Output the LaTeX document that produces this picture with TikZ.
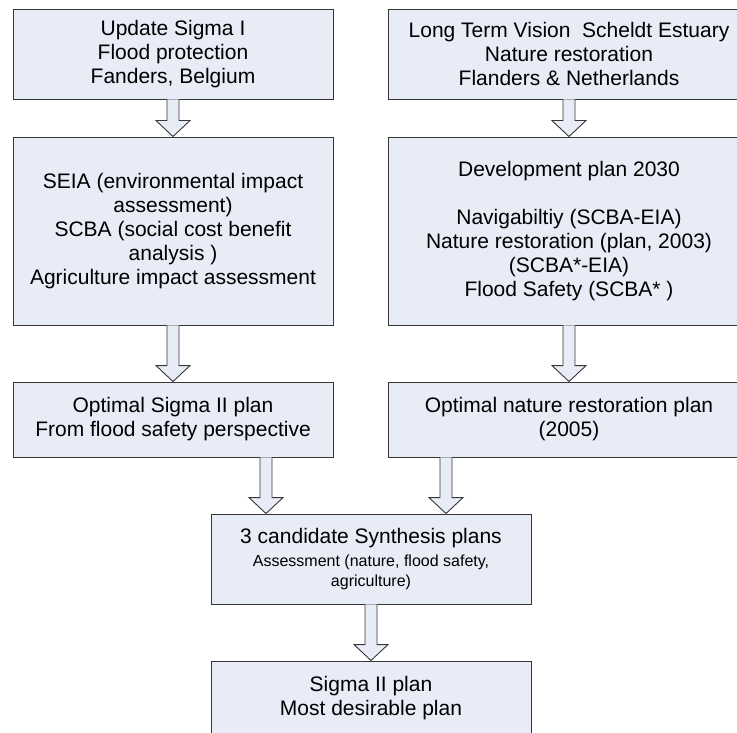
\documentclass[tikz,border=0pt]{standalone}
\usepackage{fontspec}
\setmainfont{Liberation Sans}
\usetikzlibrary{calc}
\definecolor{boxfill}{RGB}{231,236,247}
\definecolor{boxline}{RGB}{55,55,55}
\newcommand\smalltxt{\fontsize{16}{20}\selectfont}
\tikzset{
  box/.style={draw=boxline, fill=boxfill, line width=0.9pt, align=center, inner sep=0pt,
    font=\fontsize{21}{24}\selectfont},
  blkfill/.style={fill=boxfill},
  blkline/.style={draw=boxline, line width=0.9pt, line join=miter},
}
\newcommand\blkarrow[2]{%
  \fill[blkfill] let \p1=(#1), \p2=(#2) in
    (\x1-6pt,\y1) -- (\x1-6pt,\y2+16pt) -- (\x1-17pt,\y2+16pt) -- (\x1,\y2)
    -- (\x1+17pt,\y2+16pt) -- (\x1+6pt,\y2+16pt) -- (\x1+6pt,\y1) -- cycle;
  \draw[blkline] let \p1=(#1), \p2=(#2) in
    (\x1-6pt,\y1) -- (\x1-6pt,\y2+16pt) -- (\x1-17pt,\y2+16pt) -- (\x1,\y2)
    -- (\x1+17pt,\y2+16pt) -- (\x1+6pt,\y2+16pt) -- (\x1+6pt,\y1);
}
\begin{document}
\begin{tikzpicture}[x=1pt,y=-1pt]
\useasboundingbox (0,0) rectangle (737,733);
\clip (0,0) rectangle (737,733);

\node[box, minimum width=320pt, minimum height=90pt] (A) at (173,54)
  {Update Sigma I\\Flood protection\\Fanders, Belgium};
\node[box, minimum width=362pt, minimum height=90pt] (B) at (569,54)
  {Long Term Vision~ Scheldt Estuary\\Nature restoration\\Flanders \& Netherlands};
\node[box, minimum width=320pt, minimum height=188pt] (C) at (173,231)
  {SEIA (environmental impact\\assessment)\\SCBA (social cost benefit\\analysis )\\Agriculture impact assessment};
\node[box, minimum width=362pt, minimum height=188pt] (D) at (569,231)
  {Development plan 2030\\[24pt]Navigabiltiy (SCBA-EIA)\\Nature restoration (plan, 2003)\\(SCBA*-EIA)\\Flood Safety (SCBA* )};
\node[box, minimum width=320pt, minimum height=75pt] (E) at (173,419.5)
  {Optimal Sigma II plan\\From flood safety perspective};
\node[box, minimum width=362pt, minimum height=75pt] (F) at (569,419.5)
  {Optimal nature restoration plan\\(2005)};
\node[box, minimum width=320pt, minimum height=90pt] (G) at (371,559)
  {3 candidate Synthesis plans\\[-1pt]{\smalltxt Assessment (nature, flood safety,}\\[-4pt]{\smalltxt agriculture)}};
\node[box, minimum width=320pt, minimum height=74pt] (H) at (371,698)
  {Sigma II plan\\Most desirable plan};

\coordinate (egx) at (266,0);
\coordinate (fgx) at (446,0);

\blkarrow{A.south}{C.north}
\blkarrow{B.south}{D.north}
\blkarrow{C.south}{E.north}
\blkarrow{D.south}{F.north}
\blkarrow{E.south -| egx}{G.north -| egx}
\blkarrow{F.south -| fgx}{G.north -| fgx}
\blkarrow{G.south}{H.north}
\end{tikzpicture}
\end{document}
